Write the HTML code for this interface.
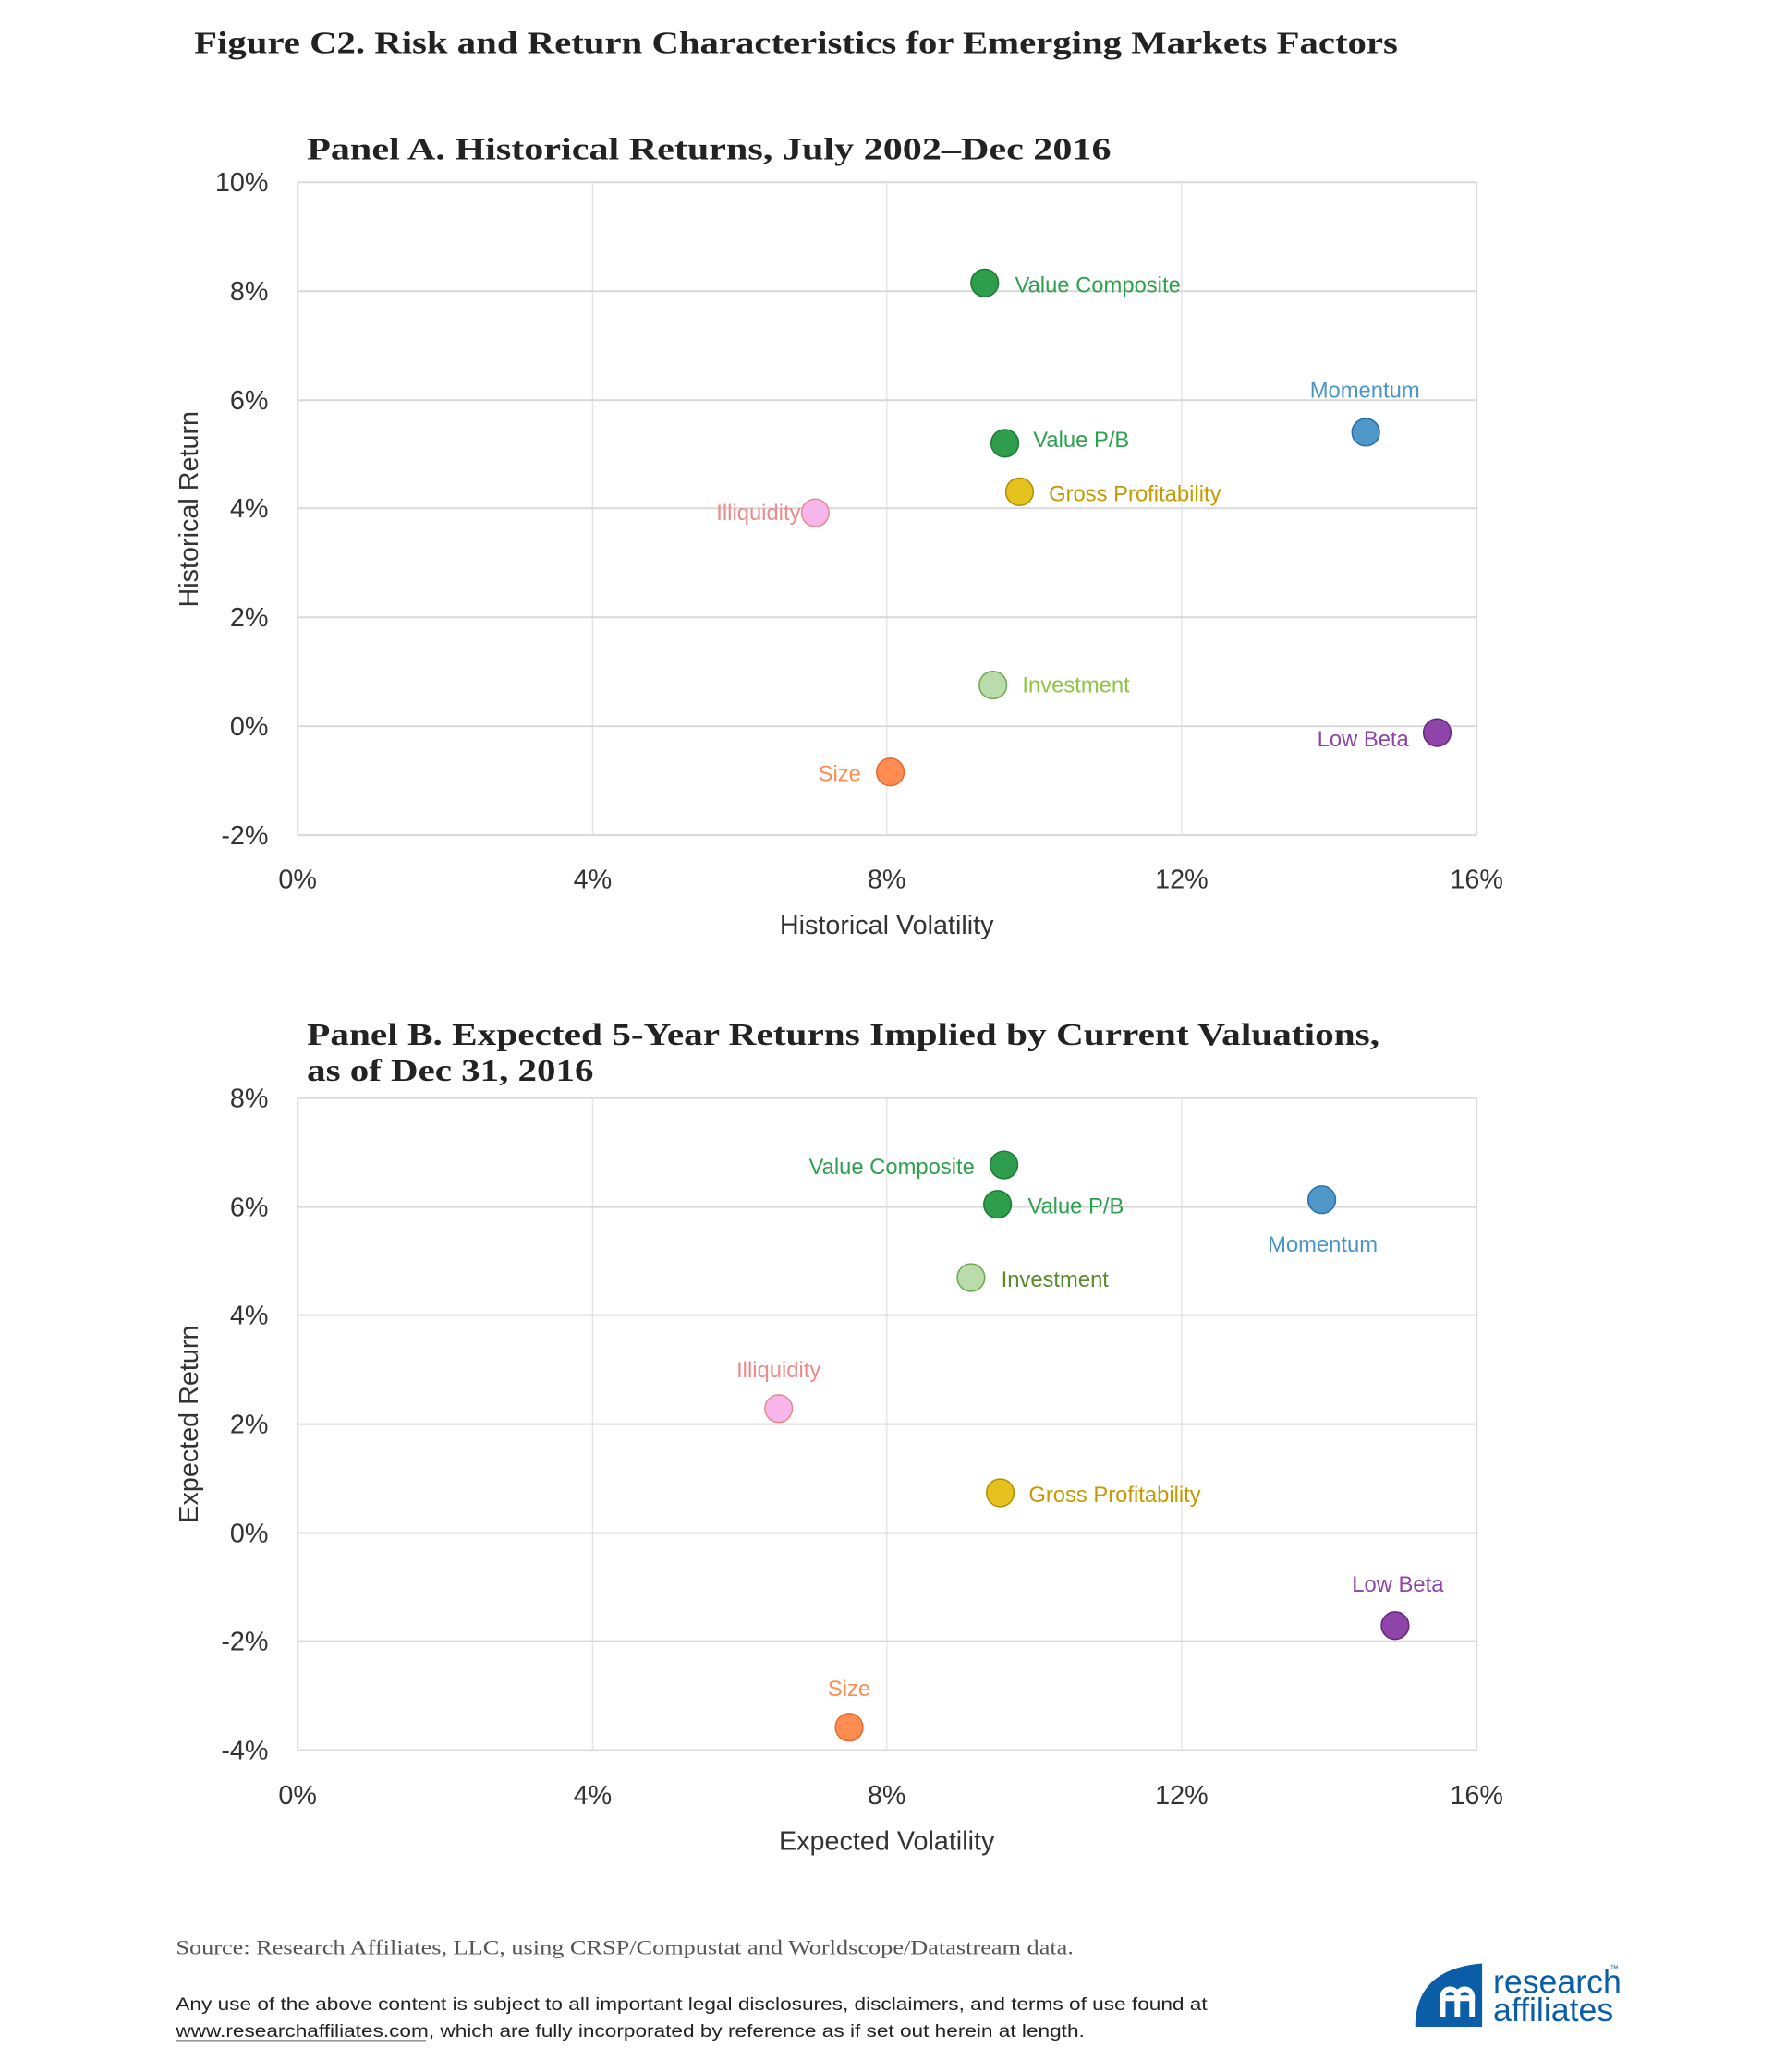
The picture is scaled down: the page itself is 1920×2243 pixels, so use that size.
<!DOCTYPE html>
<html><head><meta charset="utf-8"><style>
html,body{margin:0;padding:0;background:#fff;}
svg{display:block;}
.t{font-family:"Liberation Sans",sans-serif;}
.s{font-family:"Liberation Serif",serif;}
.tick{font-family:"Liberation Sans",sans-serif;font-size:29px;fill:#333;}
.lab{font-family:"Liberation Sans",sans-serif;font-size:24px;}
.ax{font-family:"Liberation Sans",sans-serif;font-size:29px;fill:#333;}
</style></head><body>
<svg width="1920" height="2243" viewBox="0 0 1920 2243" xmlns="http://www.w3.org/2000/svg">
<g transform="scale(0.9914)">
<text x="212" y="58" class="s" font-size="34" font-weight="bold" fill="#222" textLength="1314" lengthAdjust="spacingAndGlyphs">Figure C2. Risk and Return Characteristics for Emerging Markets Factors</text>

<!-- Panel A -->
<text x="335" y="174" class="s" font-size="34" font-weight="bold" fill="#222" textLength="878" lengthAdjust="spacingAndGlyphs">Panel A. Historical Returns, July 2002–Dec 2016</text>
<g stroke="#e6e6e6" stroke-width="1.5">
<line x1="647" y1="199" x2="647" y2="912"/><line x1="968" y1="199" x2="968" y2="912"/><line x1="1290" y1="199" x2="1290" y2="912"/>
</g>
<g stroke="#d9d9d9" stroke-width="2">
<line x1="325" y1="199" x2="1612" y2="199"/><line x1="325" y1="318" x2="1612" y2="318"/><line x1="325" y1="437" x2="1612" y2="437"/><line x1="325" y1="555" x2="1612" y2="555"/><line x1="325" y1="674" x2="1612" y2="674"/><line x1="325" y1="793" x2="1612" y2="793"/><line x1="325" y1="912" x2="1612" y2="912"/>
<line x1="325" y1="199" x2="325" y2="912"/><line x1="1612" y1="199" x2="1612" y2="912"/>
</g>
<g class="tick" text-anchor="end">
<text x="293" y="209">10%</text><text x="293" y="328">8%</text><text x="293" y="447">6%</text><text x="293" y="565">4%</text><text x="293" y="684">2%</text><text x="293" y="803">0%</text><text x="293" y="922">-2%</text>
</g>
<g class="tick" text-anchor="middle">
<text x="325" y="970">0%</text><text x="647" y="970">4%</text><text x="968" y="970">8%</text><text x="1290" y="970">12%</text><text x="1612" y="970">16%</text>
</g>
<text x="968" y="1020" class="ax" text-anchor="middle">Historical Volatility</text>
<text transform="translate(216,556) rotate(-90)" class="ax" text-anchor="middle">Historical Return</text>
<g stroke-width="1.5">
<circle cx="1075" cy="309" r="15" fill="#2e9e4c" stroke="#1d7a36"/>
<circle cx="1097" cy="484" r="15" fill="#2e9e4c" stroke="#1d7a36"/>
<circle cx="1113" cy="537" r="15" fill="#e5c21d" stroke="#b08d00"/>
<circle cx="890" cy="560" r="15" fill="#f7b6ea" stroke="#e58a8a"/>
<circle cx="1084" cy="748" r="15" fill="#b9dcaa" stroke="#6aa84f"/>
<circle cx="972" cy="843" r="15" fill="#ff8c50" stroke="#e06a30"/>
<circle cx="1491" cy="472" r="15" fill="#4f97c8" stroke="#2a6ea8"/>
<circle cx="1569" cy="800" r="15" fill="#8e44a8" stroke="#5e2a78"/>
</g>
<g class="lab">
<text x="1108" y="319" fill="#2ea14f">Value Composite</text>
<text x="1490" y="434" fill="#4a95c8" text-anchor="middle">Momentum</text>
<text x="1128" y="488" fill="#2ea14f">Value P/B</text>
<text x="1145" y="547" fill="#c49a00">Gross Profitability</text>
<text x="874" y="568" fill="#ea8a8a" text-anchor="end">Illiquidity</text>
<text x="1116" y="756" fill="#8cc63f">Investment</text>
<text x="1538" y="815" fill="#8e44ad" text-anchor="end">Low Beta</text>
<text x="940" y="853" fill="#ff8c50" text-anchor="end">Size</text>
</g>

<!-- Panel B -->
<text x="335" y="1141" class="s" font-size="34" font-weight="bold" fill="#222" textLength="1171" lengthAdjust="spacingAndGlyphs">Panel B. Expected 5-Year Returns Implied by Current Valuations,</text>
<text x="335" y="1180" class="s" font-size="34" font-weight="bold" fill="#222" textLength="313" lengthAdjust="spacingAndGlyphs">as of Dec 31, 2016</text>
<g stroke="#e6e6e6" stroke-width="1.5">
<line x1="647" y1="1199" x2="647" y2="1911"/><line x1="968" y1="1199" x2="968" y2="1911"/><line x1="1290" y1="1199" x2="1290" y2="1911"/>
</g>
<g stroke="#d9d9d9" stroke-width="2">
<line x1="325" y1="1199" x2="1612" y2="1199"/><line x1="325" y1="1318" x2="1612" y2="1318"/><line x1="325" y1="1436" x2="1612" y2="1436"/><line x1="325" y1="1555" x2="1612" y2="1555"/><line x1="325" y1="1674" x2="1612" y2="1674"/><line x1="325" y1="1792" x2="1612" y2="1792"/><line x1="325" y1="1911" x2="1612" y2="1911"/>
<line x1="325" y1="1199" x2="325" y2="1911"/><line x1="1612" y1="1199" x2="1612" y2="1911"/>
</g>
<g class="tick" text-anchor="end">
<text x="293" y="1209">8%</text><text x="293" y="1328">6%</text><text x="293" y="1446">4%</text><text x="293" y="1565">2%</text><text x="293" y="1684">0%</text><text x="293" y="1802">-2%</text><text x="293" y="1921">-4%</text>
</g>
<g class="tick" text-anchor="middle">
<text x="325" y="1970">0%</text><text x="647" y="1970">4%</text><text x="968" y="1970">8%</text><text x="1290" y="1970">12%</text><text x="1612" y="1970">16%</text>
</g>
<text x="968" y="2020" class="ax" text-anchor="middle">Expected Volatility</text>
<text transform="translate(216,1555) rotate(-90)" class="ax" text-anchor="middle">Expected Return</text>
<g stroke-width="1.5">
<circle cx="1096" cy="1272" r="15" fill="#2e9e4c" stroke="#1d7a36"/>
<circle cx="1089" cy="1315" r="15" fill="#2e9e4c" stroke="#1d7a36"/>
<circle cx="1060" cy="1395" r="15" fill="#b9dcaa" stroke="#6aa84f"/>
<circle cx="850" cy="1538" r="15" fill="#f7b6ea" stroke="#e58a8a"/>
<circle cx="1092" cy="1630" r="15" fill="#e5c21d" stroke="#b08d00"/>
<circle cx="1443" cy="1310" r="15" fill="#4f97c8" stroke="#2a6ea8"/>
<circle cx="1523" cy="1775" r="15" fill="#8e44a8" stroke="#5e2a78"/>
<circle cx="927" cy="1886" r="15" fill="#ff8c50" stroke="#e06a30"/>
</g>
<g class="lab">
<text x="1064" y="1282" fill="#2ea14f" text-anchor="end">Value Composite</text>
<text x="1122" y="1325" fill="#2ea14f">Value P/B</text>
<text x="1444" y="1367" fill="#4a95c8" text-anchor="middle">Momentum</text>
<text x="1093" y="1405" fill="#5a8a2a">Investment</text>
<text x="850" y="1504" fill="#ea8a8a" text-anchor="middle">Illiquidity</text>
<text x="1123" y="1640" fill="#c49a00">Gross Profitability</text>
<text x="1526" y="1738" fill="#8e44ad" text-anchor="middle">Low Beta</text>
<text x="927" y="1852" fill="#ff8c50" text-anchor="middle">Size</text>
</g>

<!-- Footer -->
<text x="192" y="2134" class="s" font-size="22" fill="#555" textLength="980" lengthAdjust="spacingAndGlyphs">Source: Research Affiliates, LLC, using CRSP/Compustat and Worldscope/Datastream data.</text>
<text x="192" y="2195" class="t" font-size="20" fill="#222" textLength="1126" lengthAdjust="spacingAndGlyphs">Any use of the above content is subject to all important legal disclosures, disclaimers, and terms of use found at</text>
<text x="192" y="2224" class="t" font-size="20" fill="#222" textLength="992" lengthAdjust="spacingAndGlyphs">www.researchaffiliates.com, which are fully incorporated by reference as if set out herein at length.</text>
<line x1="192" y1="2228" x2="465" y2="2228" stroke="#555" stroke-width="1"/>

<path d="M1545,2213 Q1545,2150 1618,2144 L1618,2213 Z" fill="#0a5ea8"/>
<g fill="none" stroke="#fff" stroke-width="6">
<path d="M1575,2203 L1575,2180 A8,8 0 0 1 1591,2180 L1591,2203"/>
<path d="M1591,2180 A8,8 0 0 1 1607,2180 L1607,2203"/>
<path d="M1572,2182 L1610,2182"/>
</g>
<text x="1630" y="2176" class="t" font-size="36" fill="#0a5ea8">research</text>
<text x="1758" y="2152" class="t" font-size="9" fill="#0a5ea8">™</text>
<text x="1630" y="2207" class="t" font-size="36" fill="#0a5ea8">affiliates</text>
</g>
</svg>
</body></html>
